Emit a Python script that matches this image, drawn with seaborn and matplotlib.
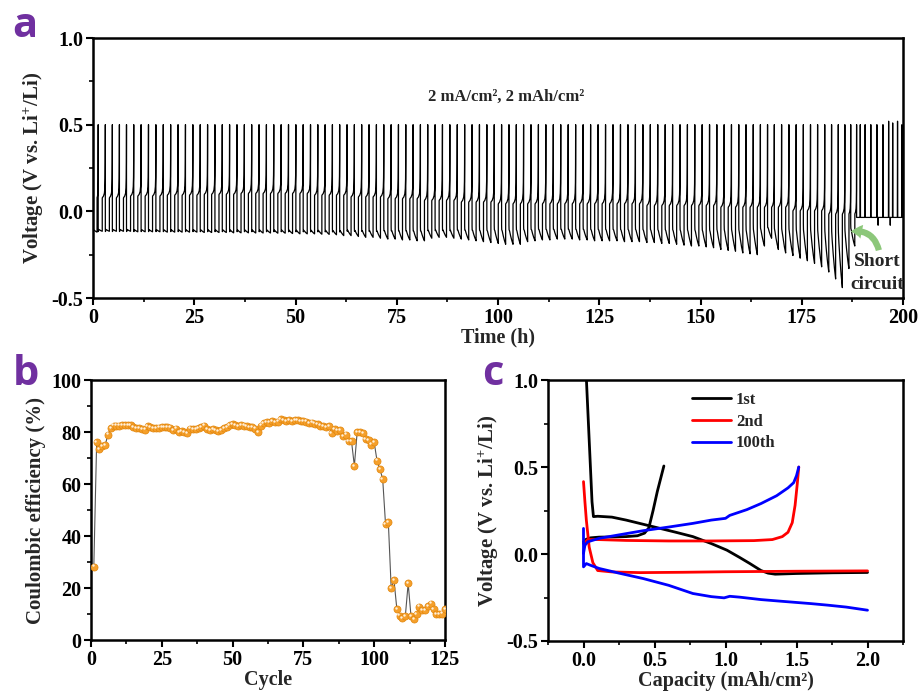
import numpy as np
import pandas as pd
import matplotlib
matplotlib.use("Agg")
import matplotlib.pyplot as plt
import matplotlib.transforms as mtransforms
from matplotlib.patches import FancyArrowPatch
import seaborn as sns

# ---------------- data ----------------
# panel b: coulombic efficiency per cycle (%)
ce = [28.2, 76.0, 73.4, 74.5, 75.0, 79.0, 81.5, 82.5, 82.5, 82.5,
      82.6, 82.6, 82.6, 82.7, 82.0, 81.6, 81.4, 81.1, 80.9, 82.3,
      81.9, 81.6, 81.5, 81.7, 81.9, 81.9, 81.8, 81.7, 80.6, 81.3,
      80.1, 80.3, 80.0, 79.7, 81.3, 81.0, 81.0, 81.5, 82.0, 82.5,
      81.0, 80.7, 81.2, 80.6, 80.4, 80.8, 81.5, 82.0, 82.6, 83.1,
      82.7, 82.4, 82.7, 82.5, 82.3, 82.0, 81.8, 81.3, 80.0, 82.5,
      83.3, 83.8, 83.6, 84.3, 83.8, 84.0, 84.9, 84.6, 84.3, 84.5,
      84.1, 84.6, 84.5, 84.3, 84.3, 84.0, 83.3, 83.6, 83.2, 83.0,
      82.5, 82.3, 82.0, 82.2, 79.6, 81.0, 80.5, 80.6, 78.5, 79.0,
      76.5, 76.4, 67.0, 80.0, 80.0, 79.6, 77.3, 76.8, 75.2, 76.0,
      69.0, 65.8, 62.0, 44.7, 45.3, 20.0, 23.0, 12.0, 9.4, 8.3,
      9.2, 21.8, 9.2, 8.0, 10.0, 12.8, 11.5, 11.5, 13.0, 14.0,
      11.8, 10.0, 10.0, 10.2, 11.8]
cycles = list(range(1, len(ce) + 1))

# panel a: per-cycle plating end voltage (V), cycles 1-105 before the short
plate_min = [-0.12, -0.115, -0.115, -0.115, -0.115, -0.115, -0.118, -0.118, -0.118, -0.118,
             -0.12, -0.12, -0.12, -0.12, -0.12, -0.122, -0.122, -0.122, -0.122, -0.124,
             -0.124, -0.124, -0.125, -0.125, -0.125, -0.126, -0.126, -0.128, -0.13, -0.13,
             -0.13, -0.132, -0.133, -0.135, -0.14, -0.14, -0.145, -0.15, -0.15, -0.155,
             -0.16, -0.16, -0.165, -0.165, -0.17, -0.17, -0.155, -0.15, -0.15, -0.155,
             -0.16, -0.165, -0.17, -0.175, -0.18, -0.185, -0.19, -0.19, -0.19, -0.175,
             -0.17, -0.165, -0.165, -0.16, -0.16, -0.16, -0.165, -0.165, -0.17, -0.17,
             -0.17, -0.17, -0.175, -0.175, -0.175, -0.18, -0.18, -0.185, -0.185, -0.19,
             -0.195, -0.2, -0.2, -0.205, -0.21, -0.22, -0.225, -0.23, -0.24, -0.245,
             -0.25, -0.2, -0.155, -0.22, -0.24, -0.255, -0.27, -0.285, -0.3, -0.32,
             -0.35, -0.39, -0.44, -0.33, -0.2]
# plating start / stripping start voltage, one value per 5 cycles
plate_start_blk = [-0.1, -0.1, -0.1, -0.1, -0.1, -0.1, -0.1, -0.095, -0.09, -0.09, -0.085,
                   -0.08, -0.08, -0.08, -0.08, -0.08, -0.08, -0.075, -0.07, -0.07, -0.07]
strip_start_blk = [0.075, 0.085, 0.09, 0.095, 0.10, 0.10, 0.09, 0.08, 0.07, 0.06, 0.05,
                   0.04, 0.04, 0.04, 0.04, 0.03, 0.03, 0.02, 0.02, 0.0, -0.02]
cutoff = 0.5
plate_hours = 1.0
# typical shape inside one plating / stripping step
plate_frac = [0.0, 0.03, 0.15, 0.4, 0.7, 1.0]
plate_shape = [0.0, 0.1, 0.3, 0.55, 0.8, 1.0]
strip_frac = [0.0, 0.05, 0.4, 0.7, 0.85, 0.93, 0.97, 1.0]
strip_shape = [0.0, 0.01, 0.03, 0.07, 0.14, 0.27, 0.5, 1.0]
# after short circuit
short_level = -0.035
short_spike_t = [189.4, 190.6, 192.0, 193.5, 195.0, 196.4, 197.4, 198.6, 199.7]
short_spike_v = [0.5, 0.5, 0.5, 0.5, 0.5, 0.52, 0.51, 0.52, 0.5]
short_dip_t = [193.8, 196.8]
short_dip_v = -0.08

# panel c: voltage profiles (capacity mAh/cm2, voltage V)
c1_dis_x = [0.015, 0.06, 0.07, 0.1, 0.2, 0.3, 0.4, 0.54, 0.65, 0.77, 0.9, 1.01, 1.1, 1.17, 1.25, 1.3, 1.35, 1.5, 1.75, 2.0]
c1_dis_y = [1.1, 0.3, 0.215, 0.217, 0.212, 0.195, 0.175, 0.147, 0.125, 0.10, 0.06, 0.022, -0.02, -0.054, -0.095, -0.11, -0.116, -0.112, -0.108, -0.106]
c1_chg_x = [0.0, 0.02, 0.05, 0.11, 0.2, 0.3, 0.38, 0.43, 0.46, 0.49, 0.52, 0.566]
c1_chg_y = [0.07, 0.085, 0.093, 0.097, 0.098, 0.100, 0.105, 0.12, 0.15, 0.25, 0.36, 0.506]
c2_dis_x = [0.0, 0.01, 0.02, 0.04, 0.066, 0.1, 0.2, 0.4, 0.7, 1.0, 1.5, 2.0]
c2_dis_y = [0.416, 0.3, 0.195, 0.04, -0.05, -0.095, -0.103, -0.107, -0.105, -0.102, -0.099, -0.097]
c2_chg_x = [0.0, 0.03, 0.1, 0.3, 0.6, 0.9, 1.2, 1.33, 1.4, 1.44, 1.47, 1.49, 1.505, 1.516]
c2_chg_y = [0.06, 0.083, 0.083, 0.078, 0.075, 0.075, 0.077, 0.083, 0.1, 0.125, 0.18, 0.28, 0.4, 0.5]
c100_dis_x = [0.0, 0.0, 0.02, 0.05, 0.11, 0.25, 0.42, 0.6, 0.77, 0.9, 0.99, 1.03, 1.1, 1.25, 1.4, 1.6, 1.72, 1.85, 2.0]
c100_dis_y = [0.147, -0.074, -0.055, -0.065, -0.083, -0.11, -0.141, -0.18, -0.227, -0.245, -0.252, -0.243, -0.248, -0.262, -0.272, -0.285, -0.294, -0.305, -0.323]
c100_chg_x = [0.0, 0.01, 0.03, 0.11, 0.25, 0.42, 0.6, 0.77, 0.9, 1.0, 1.03, 1.15, 1.25, 1.36, 1.44, 1.48, 1.5, 1.516]
c100_chg_y = [0.003, 0.05, 0.07, 0.09, 0.11, 0.134, 0.155, 0.176, 0.195, 0.205, 0.222, 0.255, 0.29, 0.335, 0.38, 0.41, 0.45, 0.50]

# ---------------- build the cycling trace ----------------
times, volts = [0.0], [0.1]
t = 0.0
for n in range(len(plate_min)):
    p0 = plate_start_blk[n // 5]
    p1 = plate_min[n]
    for i, (f, s) in enumerate(zip(plate_frac, plate_shape)):
        v = p0 + (p1 - p0) * s
        if i == 1:
            v -= 0.015  # nucleation dip
        times.append(t + f * plate_hours)
        volts.append(v)
    t += plate_hours
    d = ce[n] / 100 * plate_hours
    s0 = strip_start_blk[n // 5]
    for f, s in zip(strip_frac, strip_shape):
        times.append(t + f * d)
        volts.append(s0 + (cutoff - s0) * s)
    t += d
times.append(t)
volts.append(short_level)
events = sorted([(ts, hv) for ts, hv in zip(short_spike_t, short_spike_v)] +
                [(ts, short_dip_v) for ts in short_dip_t])
for ts, hv in events:
    times += [ts, ts + 0.05, ts + 0.1]
    volts += [short_level, hv, short_level]
times.append(200.0)
volts.append(short_level)
trace = pd.DataFrame({"time": times, "voltage": volts})

# ---------------- style ----------------
sns.set_style("ticks")
plt.rcParams["font.family"] = ["Liberation Serif", "DejaVu Serif"]
plt.rcParams["font.weight"] = "bold"
plt.rcParams["axes.labelweight"] = "bold"
plt.rcParams["axes.unicode_minus"] = False
plt.rcParams["mathtext.fontset"] = "custom"
plt.rcParams["mathtext.rm"] = "Liberation Serif:bold"
plt.rcParams["mathtext.bf"] = "Liberation Serif:bold"
plt.rcParams["mathtext.it"] = "Liberation Serif:bold:italic"
plt.rcParams["mathtext.default"] = "bf"
plt.rcParams["axes.linewidth"] = 1.8
plt.rcParams["axes.edgecolor"] = "black"
for k in ["xtick", "ytick"]:
    plt.rcParams[f"{k}.major.size"] = 5
    plt.rcParams[f"{k}.major.width"] = 1.5
    plt.rcParams[f"{k}.minor.size"] = 3
    plt.rcParams[f"{k}.minor.width"] = 1.2
    plt.rcParams[f"{k}.color"] = "black"
    plt.rcParams[f"{k}.labelsize"] = 14.5
    plt.rcParams[f"{k}.major.pad"] = 2

fig = plt.figure(figsize=(9.19, 6.95), dpi=100)
ax_a = fig.add_axes([0.1012, 0.5712, 0.8814, 0.3741])
ax_b = fig.add_axes([0.099, 0.0791, 0.3852, 0.3741])
ax_c = fig.add_axes([0.5963, 0.0777, 0.3863, 0.3755])

ylab = r"Voltage (V vs. Li$^{+}$/Li)"

# ---------------- panel a ----------------
sns.lineplot(data=trace, x="time", y="voltage", sort=False, estimator=None,
             color="black", lw=0.9, ax=ax_a)
ax_a.set_xlim(0, 200)
ax_a.set_ylim(-0.5, 1.0)
ax_a.set_xticks(np.arange(0, 201, 25))
ax_a.set_xticks(np.arange(12.5, 200, 25), minor=True)
ax_a.set_yticks([-0.5, 0.0, 0.5, 1.0])
ax_a.set_yticks([-0.25, 0.25, 0.75], minor=True)
ax_a.yaxis.set_major_formatter(matplotlib.ticker.FormatStrFormatter("%.1f"))
ax_a.set_xlabel("Time (h)", fontsize=14.5, labelpad=0)
ax_a.set_ylabel(ylab, fontsize=15, labelpad=4)
ax_a.text(102, 0.66, "2 mA/cm², 2 mAh/cm²", fontsize=12, ha="center", va="center")
ax_a.text(193.6, -0.29, "Short", fontsize=14, ha="center", va="center")
ax_a.text(193.6, -0.42, "circuit", fontsize=14, ha="center", va="center")
arrow = FancyArrowPatch((194.2, -0.24), (186.4, -0.12),
                        connectionstyle="arc3,rad=0.5",
                        arrowstyle="simple,head_width=10,head_length=8,tail_width=4.5",
                        color="#8cc77a", lw=0, zorder=4)
ax_a.add_patch(arrow)

# ---------------- panel b ----------------
cedf = pd.DataFrame({"cycle": cycles, "ce": ce})
sns.lineplot(data=cedf, x="cycle", y="ce", color="#555555", lw=0.8, ax=ax_b, zorder=2)
sns.scatterplot(data=cedf, x="cycle", y="ce", s=26, color="#f5a02c",
                edgecolor="#e2850a", linewidth=0.5, ax=ax_b, zorder=3)
shift = mtransforms.ScaledTranslation(-0.9 / 72, 0.9 / 72, fig.dpi_scale_trans)
ax_b.scatter(cedf["cycle"], cedf["ce"], s=3, color="#fff0dc", lw=0,
             transform=ax_b.transData + shift, zorder=4)
ax_b.set_xlim(0, 125)
ax_b.set_ylim(0, 100)
ax_b.set_xticks(np.arange(0, 126, 25))
ax_b.set_xticks(np.arange(12.5, 125, 25), minor=True)
ax_b.set_yticks(np.arange(0, 101, 20))
ax_b.set_yticks(np.arange(10, 100, 20), minor=True)
ax_b.set_xlabel("Cycle", fontsize=14.5, labelpad=0)
ax_b.set_ylabel("Coulombic efficiency (%)", fontsize=15, labelpad=4)

# ---------------- panel c ----------------
profiles = [("1st", "black", c1_dis_x, c1_dis_y, c1_chg_x, c1_chg_y),
            ("2nd", "#ff0000", c2_dis_x, c2_dis_y, c2_chg_x, c2_chg_y),
            ("100th", "#0000ff", c100_dis_x, c100_dis_y, c100_chg_x, c100_chg_y)]
handles = []
for label, col, dx, dy, cx, cy in profiles:
    sns.lineplot(x=dx, y=dy, sort=False, estimator=None, color=col, lw=2.0, ax=ax_c)
    sns.lineplot(x=cx, y=cy, sort=False, estimator=None, color=col, lw=2.0, ax=ax_c)
    handles.append(matplotlib.lines.Line2D([], [], color=col, lw=2.0, label=label))
ax_c.legend(handles=handles, loc="upper left", bbox_to_anchor=(0.405, 0.955),
            frameon=False, fontsize=12, handlelength=2.35, handletextpad=0.3,
            labelspacing=0.35, borderpad=0, borderaxespad=0)
ax_c.set_xlim(-0.25, 2.25)
ax_c.set_ylim(-0.5, 1.0)
ax_c.set_xticks([0.0, 0.5, 1.0, 1.5, 2.0])
ax_c.set_xticks([-0.25, 0.25, 0.75, 1.25, 1.75, 2.25], minor=True)
ax_c.set_yticks([-0.5, 0.0, 0.5, 1.0])
ax_c.set_yticks([-0.25, 0.25, 0.75], minor=True)
ax_c.xaxis.set_major_formatter(matplotlib.ticker.FormatStrFormatter("%.1f"))
ax_c.yaxis.set_major_formatter(matplotlib.ticker.FormatStrFormatter("%.1f"))
ax_c.set_xlabel("Capacity (mAh/cm²)", fontsize=14.5, labelpad=0)
ax_c.set_ylabel(ylab, fontsize=15, labelpad=4)

for ax in [ax_a, ax_b, ax_c]:
    for sp in ax.spines.values():
        sp.set_visible(True)
        sp.set_linewidth(1.8)
    ax.tick_params(which="both", direction="out", top=False, right=False)

# panel letters
for lx, ly, letter in [(0.013, 0.9468, "a"), (0.0141, 0.446, "b"), (0.5245, 0.446, "c")]:
    fig.text(lx, ly, letter, color="#7030a0", fontsize=30, fontweight="bold",
             family=["Open Sans", "DejaVu Sans"], ha="left", va="baseline")

fig.savefig("out.png", dpi=100)
